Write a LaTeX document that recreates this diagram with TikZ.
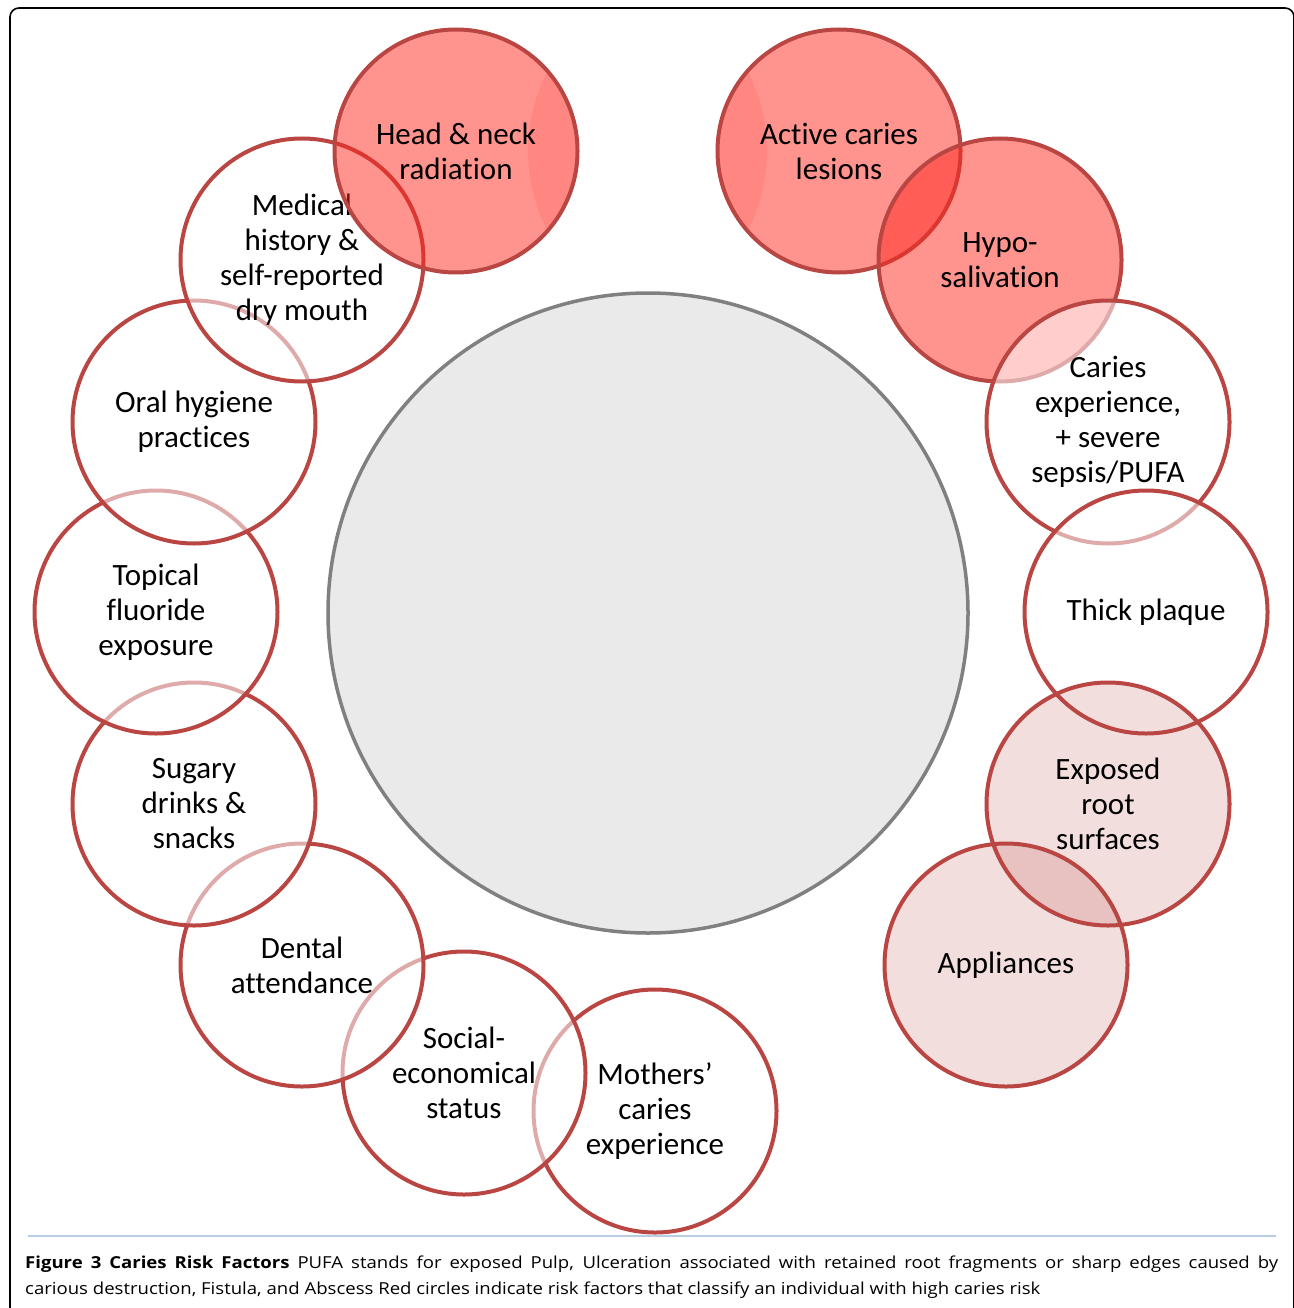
\documentclass[tikz,border=0pt]{standalone}
\usepackage{fontspec}
\setmainfont{Carlito}[Ligatures=NoCommon]
\newfontfamily\capfont{Open Sans}
\definecolor{bord}{RGB}{185,70,67}
\definecolor{hired}{RGB}{255,40,30}
\definecolor{cgrey}{RGB}{234,234,234}
\definecolor{cbord}{RGB}{128,128,128}
\definecolor{capline}{RGB}{184,204,228}
\tikzset{
  base/.style={circle, draw=bord, line width=4pt, minimum size=243pt, inner sep=0pt,
    align=center, font=\fontsize{31}{35}\selectfont, text=black, text opacity=1},
  hi/.style={base, fill=hired, fill opacity=0.5},
  mid/.style={base, fill=bord, fill opacity=0.18},
  lo/.style={base, fill=white, fill opacity=0.55},
  captext/.style={anchor=base west, inner sep=0pt, font=\capfont\fontsize{16.5}{19}\selectfont},
}
\begin{document}
\begin{tikzpicture}[x=1pt,y=-1pt]
\useasboundingbox (0,0) rectangle (1293,1308);
% frame
\draw[line width=1.6pt, rounded corners=9pt] (10,1312) -- (10,8) -- (1294,8) -- (1294,1312);
% central circle
\node[circle, draw=cbord, fill=cgrey, line width=3.5pt, minimum size=640pt] (centre) at (648,613) {};
% left chain
\node[lo] (mothers) at (655,1111) {Mothers’\\caries\\experience};
\node[lo] (social) at (464,1073) {Social-\\economical\\status};
\node[lo] (dental) at (302,965) {Dental\\attendance};
\node[lo] (sugary) at (194,804) {Sugary\\drinks \&\\snacks};
\node[lo] (topical) at (156,612) {Topical\\fluoride\\exposure};
\node[lo] (oral) at (194,422) {Oral hygiene\\practices};
\node[lo] (medical) at (302,260) {Medical\\history \&\\self-reported\\dry mouth};
\begin{scope}
  \clip (456,151) circle (121.5);
  \fill[hired, opacity=0.12] (700,151) circle (172);
\end{scope}
\node[hi] (head) at (456,151) {Head \& neck\\radiation};
% right chain
\begin{scope}
  \clip (839,151) circle (121.5);
  \fill[hired, opacity=0.12] (595,151) circle (172);
\end{scope}
\node[hi] (active) at (839,151) {Active caries\\lesions};
\node[hi] (hypo) at (1000,260) {Hypo-\\salivation};
\node[lo] (caries) at (1108,422) {Caries\\experience,\\+ severe\\sepsis/PUFA};
\node[lo] (plaque) at (1146,612) {Thick plaque};
\node[mid] (exposed) at (1108,804) {Exposed\\root\\surfaces};
\node[mid] (appl) at (1006,965) {Appliances};
% caption
\draw[capline, line width=2pt] (28,1236) -- (1276,1236);
\node[captext] (cap1) at (25,1268)
  {\scalebox{1.125}[1]{\makebox[1113.8pt][s]{\textbf{Figure 3 Caries Risk Factors} PUFA stands for exposed Pulp, Ulceration associated with retained root fragments or sharp edges caused by}}};
\node[captext] (cap2) at (25,1294)
  {\scalebox{1.125}[1]{carious destruction, Fistula, and Abscess Red circles indicate risk factors that classify an individual with high caries risk}};
\end{tikzpicture}
\end{document}
